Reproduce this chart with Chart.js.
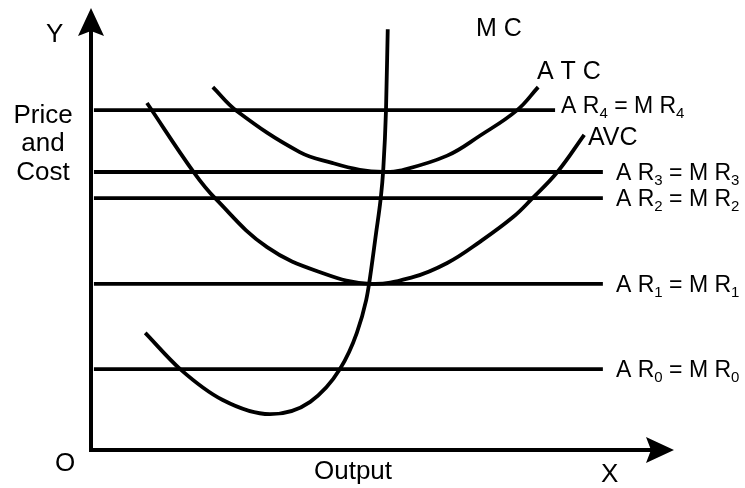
<!DOCTYPE html>
<html>
<head>
<meta charset="utf-8">
<script src="https://cdn.jsdelivr.net/npm/chart.js@4.4.1/dist/chart.umd.min.js"></script>
<style>
  body { margin: 0; background: #fff; }
  canvas { display: block; }
</style>
</head>
<body>
<canvas id="costChart" width="745" height="488"></canvas>
<script>
// Cost curves (output on x, price/cost on y, 0..10 units)
const mcOutput = [0.93, 1.53, 2.26, 3.07, 3.76, 4.27, 4.56, 4.72, 4.77, 4.89, 4.97, 5.01, 5.06, 5.09];
const mcCost = [2.65, 1.83, 1.13, 0.81, 1.09, 1.83, 2.65, 3.39, 3.76, 4.91, 5.70, 6.29, 7.69, 9.52];

const atcOutput = [2.09, 2.50, 3.58, 4.15, 4.61, 5.01, 5.30, 6.11, 6.67, 7.31, 7.67];
const atcCost = [8.21, 7.67, 6.74, 6.49, 6.34, 6.29, 6.32, 6.66, 7.11, 7.69, 8.21];

const avcOutput = [0.96, 1.77, 2.14, 3.02, 3.98, 4.79, 5.52, 6.11, 6.67, 7.24, 7.56, 8.00, 8.46];
const avcCost = [7.85, 6.27, 5.68, 4.59, 4.00, 3.76, 3.91, 4.23, 4.71, 5.27, 5.68, 6.29, 7.13];

// Price lines AR = MR
const arIndex = ['0', '1', '2', '3', '4'];
const arLevels = [1.83, 3.76, 5.70, 6.29, 7.69];
const arStart = [0.05, 0.05, 0.05, 0.05, 0.05];
const arEnd = [8.78, 8.78, 8.78, 8.78, 7.96];

const FONT = '"Liberation Sans", Arial, sans-serif';

function toPoints(xs, ys) {
    return xs.map((x, i) => ({ x: x, y: ys[i] }));
}

function curve(label, xs, ys, mode) {
    return {
        label: label,
        data: toPoints(xs, ys),
        showLine: true,
        borderColor: '#000',
        borderWidth: 3.8,
        pointRadius: 0,
        cubicInterpolationMode: mode,
        tension: 0.4,
        fill: false
    };
}

const datasets = [
    curve('MC', mcOutput, mcCost, 'monotone'),
    curve('ATC', atcOutput, atcCost, 'default'),
    curve('AVC', avcOutput, avcCost, 'default')
];

arLevels.forEach((level, i) => {
    datasets.push({
        label: 'AR' + arIndex[i],
        data: [{ x: arStart[i], y: level }, { x: arEnd[i], y: level }],
        showLine: true,
        borderColor: '#000',
        borderWidth: 3.8,
        pointRadius: 0,
        tension: 0
    });
});

// draws "A R_n = M R_n" with subscripts
function drawARLabel(ctx, x, y, sub) {
    const big = '23px ' + FONT;
    const small = '15px ' + FONT;
    let cx = x;
    const parts = [['A R', big, 0], [sub, small, 5], [' = M R', big, 0], [sub, small, 5]];
    parts.forEach(p => {
        ctx.font = p[1];
        ctx.fillText(p[0], cx, y + p[2]);
        cx += ctx.measureText(p[0]).width;
    });
}

const diagramPlugin = {
    id: 'diagram',
    afterDatasetsDraw(chart) {
        const ctx = chart.ctx;
        const xs = chart.scales.x;
        const ys = chart.scales.y;
        const ox = xs.getPixelForValue(0);
        const oy = ys.getPixelForValue(0);
        const topY = ys.getPixelForValue(10);
        const rightX = xs.getPixelForValue(10);

        ctx.save();
        ctx.strokeStyle = '#000';
        ctx.fillStyle = '#000';
        ctx.lineWidth = 4;

        // axes
        ctx.beginPath();
        ctx.moveTo(ox, topY + 20);
        ctx.lineTo(ox, oy);
        ctx.lineTo(rightX - 20, oy);
        ctx.stroke();

        // arrow heads
        ctx.beginPath();
        ctx.moveTo(ox, topY);
        ctx.lineTo(ox - 13, topY + 28);
        ctx.lineTo(ox, topY + 23);
        ctx.lineTo(ox + 13, topY + 28);
        ctx.closePath();
        ctx.fill();

        ctx.beginPath();
        ctx.moveTo(rightX, oy);
        ctx.lineTo(rightX - 28, oy - 13);
        ctx.lineTo(rightX - 23, oy);
        ctx.lineTo(rightX - 28, oy + 13);
        ctx.closePath();
        ctx.fill();

        // axis texts
        ctx.textBaseline = 'alphabetic';
        ctx.textAlign = 'left';
        ctx.font = '26px ' + FONT;
        ctx.fillText('Y', 46, 42);
        ctx.fillText('O', 55, 471);
        ctx.fillText('X', 601, 482);
        ctx.fillText('Output', 314, 479);

        ctx.textAlign = 'center';
        ctx.fillText('Price', 43, 123);
        ctx.fillText('and', 43, 151);
        ctx.fillText('Cost', 43, 180);

        // curve names
        ctx.textAlign = 'left';
        ctx.font = '25px ' + FONT;
        ctx.fillText('M C', 476, 36);
        ctx.fillText('A T C', 537, 79);
        ctx.fillText('AVC', 588, 145);

        // price line names
        arLevels.forEach((level, i) => {
            const y = ys.getPixelForValue(level);
            const x = i === 4 ? xs.getPixelForValue(arEnd[i]) + 6 : 616;
            drawARLabel(ctx, x, y + (i === 4 ? 3 : 8), arIndex[i]);
        });

        ctx.restore();
    }
};

new Chart(document.getElementById('costChart'), {
    type: 'scatter',
    data: { datasets: datasets },
    options: {
        responsive: false,
        animation: false,
        layout: { padding: { left: 91, right: 71, top: 8, bottom: 38 } },
        plugins: {
            legend: { display: false },
            tooltip: { enabled: false }
        },
        scales: {
            x: { type: 'linear', min: 0, max: 10, display: false },
            y: { type: 'linear', min: 0, max: 10, display: false }
        }
    },
    plugins: [diagramPlugin]
});
</script>
</body>
</html>
